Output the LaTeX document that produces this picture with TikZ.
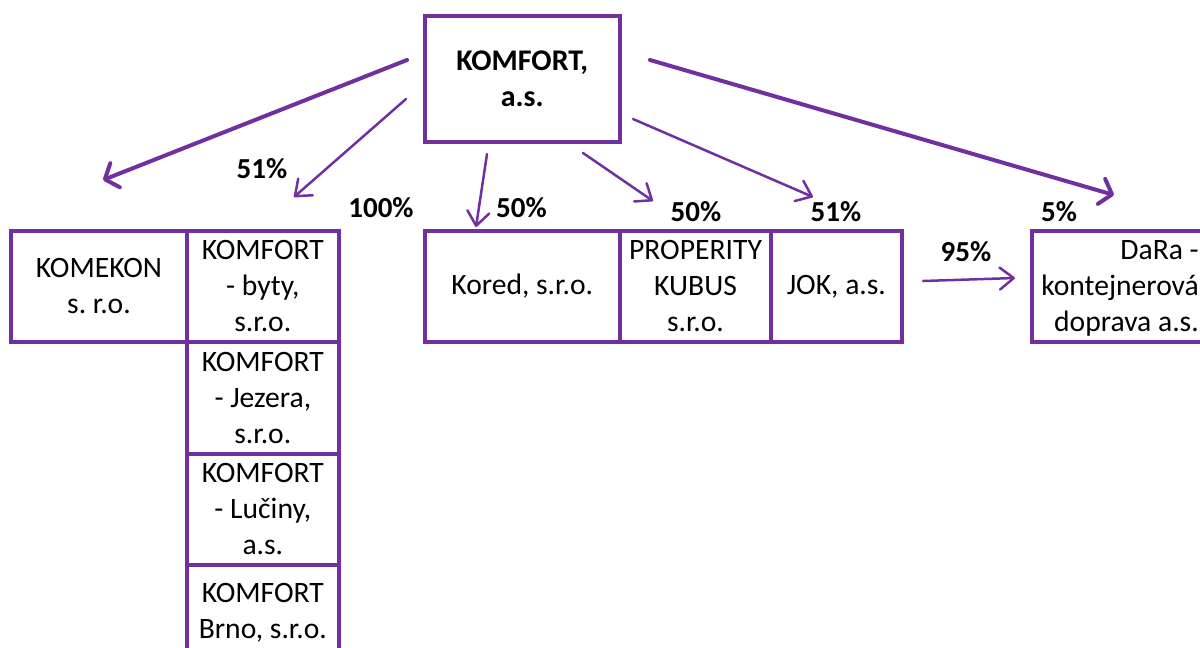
\documentclass[tikz,border=0pt]{standalone}
\usepackage{fontspec}
\setmainfont{Carlito}
\usetikzlibrary{arrows.meta}
\definecolor{kpurple}{HTML}{7030A0}
\frenchspacing
\begin{document}
\begin{tikzpicture}[x=1pt,y=-1pt,
  box/.style={draw=kpurple, line width=4pt, inner sep=0pt, outer sep=0pt, align=center,
    font=\fontsize{29.6}{36}\selectfont},
  pct/.style={inner sep=0pt, font=\fontsize{29}{36}\selectfont\bfseries},
  thickarr/.style={draw=kpurple, line width=4pt, line cap=round,
    -{Straight Barb[length=11pt,width=26pt,round]}},
  thinarr/.style={draw=kpurple, line width=2.5pt, line cap=round,
    -{Straight Barb[length=14pt,width=22pt,round]}}]
\useasboundingbox (0,0) rectangle (1200,648);
% boxes
\node[box, minimum width=195.5pt, minimum height=125.7pt, font=\fontsize{30}{36}\selectfont\bfseries]
  (top) at (522.25,78.85) {KOMFORT,\\a.s.};
\node[box, minimum width=176pt, minimum height=110.7pt] (komekon) at (99,286.35) {KOMEKON\\s. r.o.};
\node[box, minimum width=151.7pt, minimum height=110.7pt] (byty) at (262.85,286.35) {KOMFORT\\- byty,\\s.r.o.};
\node[box, minimum width=151.7pt, minimum height=112.3pt] (jezera) at (262.85,397.85) {KOMFORT\\- Jezera,\\s.r.o.};
\node[box, minimum width=151.7pt, minimum height=111pt] (luciny) at (262.85,509.5) {KOMFORT\\- Lučiny,\\a.s.};
\node[box, minimum width=151.7pt, minimum height=95pt] (brno) at (262.85,612.5) {KOMFORT\\Brno, s.r.o.};
\node[box, minimum width=195.5pt, minimum height=110.7pt] (kored) at (522.25,286.35) {Kored, s.r.o.};
\node[box, minimum width=151pt, minimum height=110.7pt] (prop) at (695.5,286.35) {PROPERITY\\KUBUS\\s.r.o.};
\node[box, minimum width=130.7pt, minimum height=110.7pt] (jok) at (836.35,286.35) {JOK, a.s.};
\node[box, minimum width=183pt, minimum height=110.7pt] (dara) at (1123.5,286.35) {};
\node[inner sep=0pt, align=right, anchor=east, font=\fontsize{29.6}{36}\selectfont]
  (daratxt) at (1199,288) {DaRa -\\kontejnerová\\doprava a.s.};
% percentages
\node[pct] (p1) at (262,169) {51\%};
\node[pct] (p2) at (381,208) {100\%};
\node[pct] (p3) at (521.5,207.5) {50\%};
\node[pct] (p4) at (696,211.5) {50\%};
\node[pct] (p5) at (836,211.5) {51\%};
\node[pct] (p6) at (1059,212) {5\%};
\node[pct] (p7) at (966,251.5) {95\%};
% arrow end points
\coordinate (a1s) at (407,60);   \coordinate (a1e) at (103,180);
\coordinate (a2s) at (406,99);   \coordinate (a2e) at (294,197);
\coordinate (a3s) at (487,154);  \coordinate (a3e) at (476,227);
\coordinate (a4s) at (583,153);  \coordinate (a4e) at (653,201);
\coordinate (a5s) at (633,119);  \coordinate (a5e) at (813,197);
\coordinate (a6s) at (650,60);   \coordinate (a6e) at (1114,195);
\coordinate (a7s) at (923,281);  \coordinate (a7e) at (1015,278);
% arrows
\draw[thickarr] (a1s) -- (a1e);
\draw[thinarr] (a2s) -- (a2e);
\draw[thinarr] (a3s) -- (a3e);
\draw[thinarr] (a4s) -- (a4e);
\draw[thinarr] (a5s) -- (a5e);
\draw[thickarr] (a6s) -- (a6e);
\draw[thinarr] (a7s) -- (a7e);
\end{tikzpicture}
\end{document}
